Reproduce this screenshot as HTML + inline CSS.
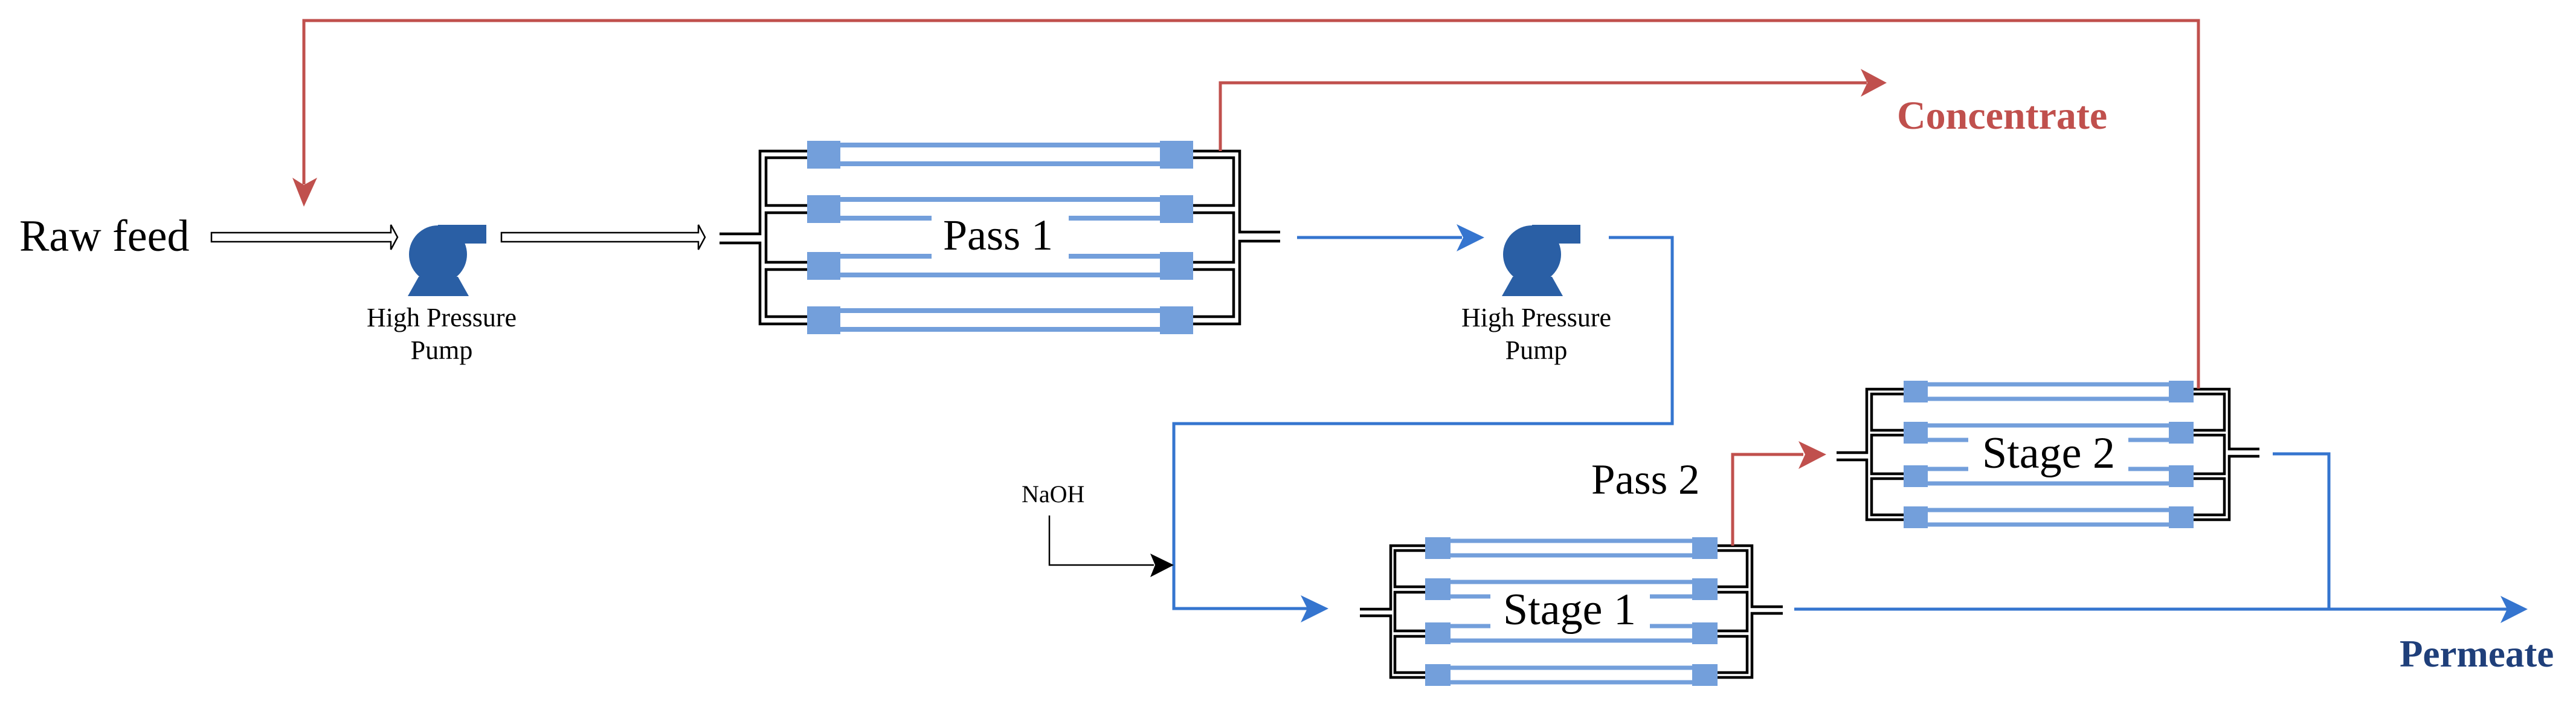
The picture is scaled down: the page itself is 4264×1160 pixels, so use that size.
<!DOCTYPE html>
<html><head><meta charset="utf-8"><style>
html,body{margin:0;padding:0;background:#fff;}
svg{display:block;}
text{font-family:"Liberation Serif",serif;}
</style></head><body>
<svg width="4264" height="1160" viewBox="0 0 4264 1160" xmlns="http://www.w3.org/2000/svg">
<rect width="4264" height="1160" fill="#fff"/>

<!-- ===== PASS 1 MODULE ===== -->
<g fill="#739fdb">
<rect x="1336" y="233" width="55" height="46"/><rect x="1920" y="233" width="55" height="46"/>
<rect x="1336" y="323" width="55" height="46"/><rect x="1920" y="323" width="55" height="46"/>
<rect x="1336" y="417" width="55" height="46"/><rect x="1920" y="417" width="55" height="46"/>
<rect x="1336" y="507" width="55" height="46"/><rect x="1920" y="507" width="55" height="46"/>
</g>
<g stroke="#739fdb" stroke-width="8" fill="none">
<path d="M1391 240H1920M1391 271H1920M1391 330H1920M1391 361H1542M1769 361H1920M1391 424H1542M1769 424H1920M1391 455H1920M1391 514H1920M1391 545H1920"/>
</g>
<g stroke="#000" stroke-width="4.5" fill="none">
<path d="M1336 250H1258V387H1191M1191 402H1258V536H1336"/>
<path d="M1336 261H1268V340H1336M1336 352H1268V434H1336M1336 446H1268V524H1336"/>
<path d="M1975 250H2052V384H2119M2119 399H2052V536H1975"/>
<path d="M1975 261H2042V340H1975M1975 352H2042V434H1975M1975 446H2042V524H1975"/>
</g>
<text x="1652" y="413" font-size="72" text-anchor="middle">Pass 1</text>

<!-- ===== STAGE 1 MODULE ===== -->
<g fill="#739fdb">
<rect x="2359" y="889" width="42" height="36"/><rect x="2801" y="889" width="42" height="36"/>
<rect x="2359" y="957" width="42" height="36"/><rect x="2801" y="957" width="42" height="36"/>
<rect x="2359" y="1030" width="42" height="36"/><rect x="2801" y="1030" width="42" height="36"/>
<rect x="2359" y="1099" width="42" height="36"/><rect x="2801" y="1099" width="42" height="36"/>
</g>
<g stroke="#739fdb" stroke-width="7" fill="none">
<path d="M2401 895H2801M2401 919H2801M2401 963H2801M2401 987H2467M2731 987H2801M2401 1036H2467M2731 1036H2801M2401 1060H2801M2401 1105H2801M2401 1129H2801"/>
</g>
<g stroke="#000" stroke-width="4.5" fill="none">
<path d="M2359 903H2302V1008H2251M2251 1019H2302V1121H2359"/>
<path d="M2359 911H2309V971H2359M2359 980H2309V1044H2359M2359 1053H2309V1113H2359"/>
<path d="M2843 903H2900V1004H2951M2951 1015H2900V1121H2843"/>
<path d="M2843 911H2892V971H2843M2843 980H2892V1044H2843M2843 1053H2892V1113H2843"/>
</g>
<text x="2598" y="1033" font-size="74" text-anchor="middle">Stage 1</text>

<!-- ===== STAGE 2 MODULE ===== -->
<g fill="#739fdb">
<rect x="3151" y="630" width="40" height="36"/><rect x="3590" y="630" width="41" height="36"/>
<rect x="3151" y="698" width="40" height="36"/><rect x="3590" y="698" width="41" height="36"/>
<rect x="3151" y="770" width="40" height="36"/><rect x="3590" y="770" width="41" height="36"/>
<rect x="3151" y="838" width="40" height="36"/><rect x="3590" y="838" width="41" height="36"/>
</g>
<g stroke="#739fdb" stroke-width="7" fill="none">
<path d="M3191 636H3590M3191 660H3590M3191 704H3590M3191 728H3258M3523 728H3590M3191 776H3258M3523 776H3590M3191 800H3590M3191 844H3590M3191 868H3590"/>
</g>
<g stroke="#000" stroke-width="4.5" fill="none">
<path d="M3151 644H3090V749H3040M3040 761H3090V860H3151"/>
<path d="M3151 652H3098V712H3151M3151 720H3098V784H3151M3151 792H3098V852H3151"/>
<path d="M3631 644H3690V743H3740M3740 755H3690V860H3631"/>
<path d="M3631 652H3682V712H3631M3631 720H3682V784H3631M3631 792H3682V852H3631"/>
</g>
<text x="3391" y="774" font-size="74" text-anchor="middle">Stage 2</text>

<!-- ===== RED LINES ===== -->
<g stroke="#c0504d" stroke-width="5" fill="none">
<path d="M3639 643V34H503V305"/>
<path d="M2020 250V137H3090"/>
<path d="M2868 903V752H2985"/>
</g>
<g fill="#c0504d">
<path d="M484 294L503 342L525 294L503 306Z"/>
<path d="M3080 114L3123 137L3080 160L3091 137Z"/>
<path d="M2977 730L3023 752L2977 776L2988 752Z"/>
</g>

<!-- ===== BLUE LINES ===== -->
<g stroke="#3575cf" stroke-width="5" fill="none">
<path d="M2147 393H2420"/>
<path d="M2663 393H2768V701H1943V1007H2165"/>
<path d="M2970 1008H4150"/>
<path d="M3762 751H3855V1008"/>
</g>
<g fill="#3575cf">
<path d="M2411 371L2457 393L2411 416L2422 393Z"/>
<path d="M2153 985L2199 1007L2153 1030L2164 1007Z"/>
<path d="M4139 986L4184 1008L4139 1031L4150 1008Z"/>
</g>

<!-- ===== NaOH ===== -->
<text x="1691" y="831" font-size="40">NaOH</text>
<path d="M1737 853V935H1910" stroke="#000" stroke-width="2.5" fill="none"/>
<path d="M1904 916L1943 935L1904 955L1912 935Z" fill="#000"/>

<!-- ===== HOLLOW ARROWS ===== -->
<path d="M350 385H647V372L658 392.5L647 413V400H350Z" fill="#fff" stroke="#000" stroke-width="2.5"/>
<path d="M830 385H1156V372L1167 392.5L1156 413V400H830Z" fill="#fff" stroke="#000" stroke-width="2.5"/>

<!-- ===== PUMPS ===== -->
<g fill="#2a5fa5">
<circle cx="725" cy="421" r="48"/>
<rect x="725" y="372" width="80" height="31"/>
<path d="M693 458H758L776 490H675Z"/>
</g>
<g transform="translate(1811,0)" fill="#2a5fa5">
<circle cx="725" cy="421" r="48"/>
<rect x="725" y="372" width="80" height="31"/>
<path d="M693 458H758L776 490H675Z"/>
</g>
<text x="731" y="540" font-size="44" text-anchor="middle">High Pressure</text>
<text x="731" y="594" font-size="44" text-anchor="middle">Pump</text>
<text x="2543" y="540" font-size="44" text-anchor="middle">High Pressure</text>
<text x="2543" y="594" font-size="44" text-anchor="middle">Pump</text>

<!-- ===== LABELS ===== -->
<text x="32" y="415" font-size="74">Raw feed</text>
<text x="2634" y="817" font-size="71">Pass 2</text>
<text x="3140" y="213" font-size="66" font-weight="bold" fill="#c0504d">Concentrate</text>
<text x="3972" y="1103" font-size="63" font-weight="bold" fill="#1f3f7a">Permeate</text>
</svg>
</body></html>
